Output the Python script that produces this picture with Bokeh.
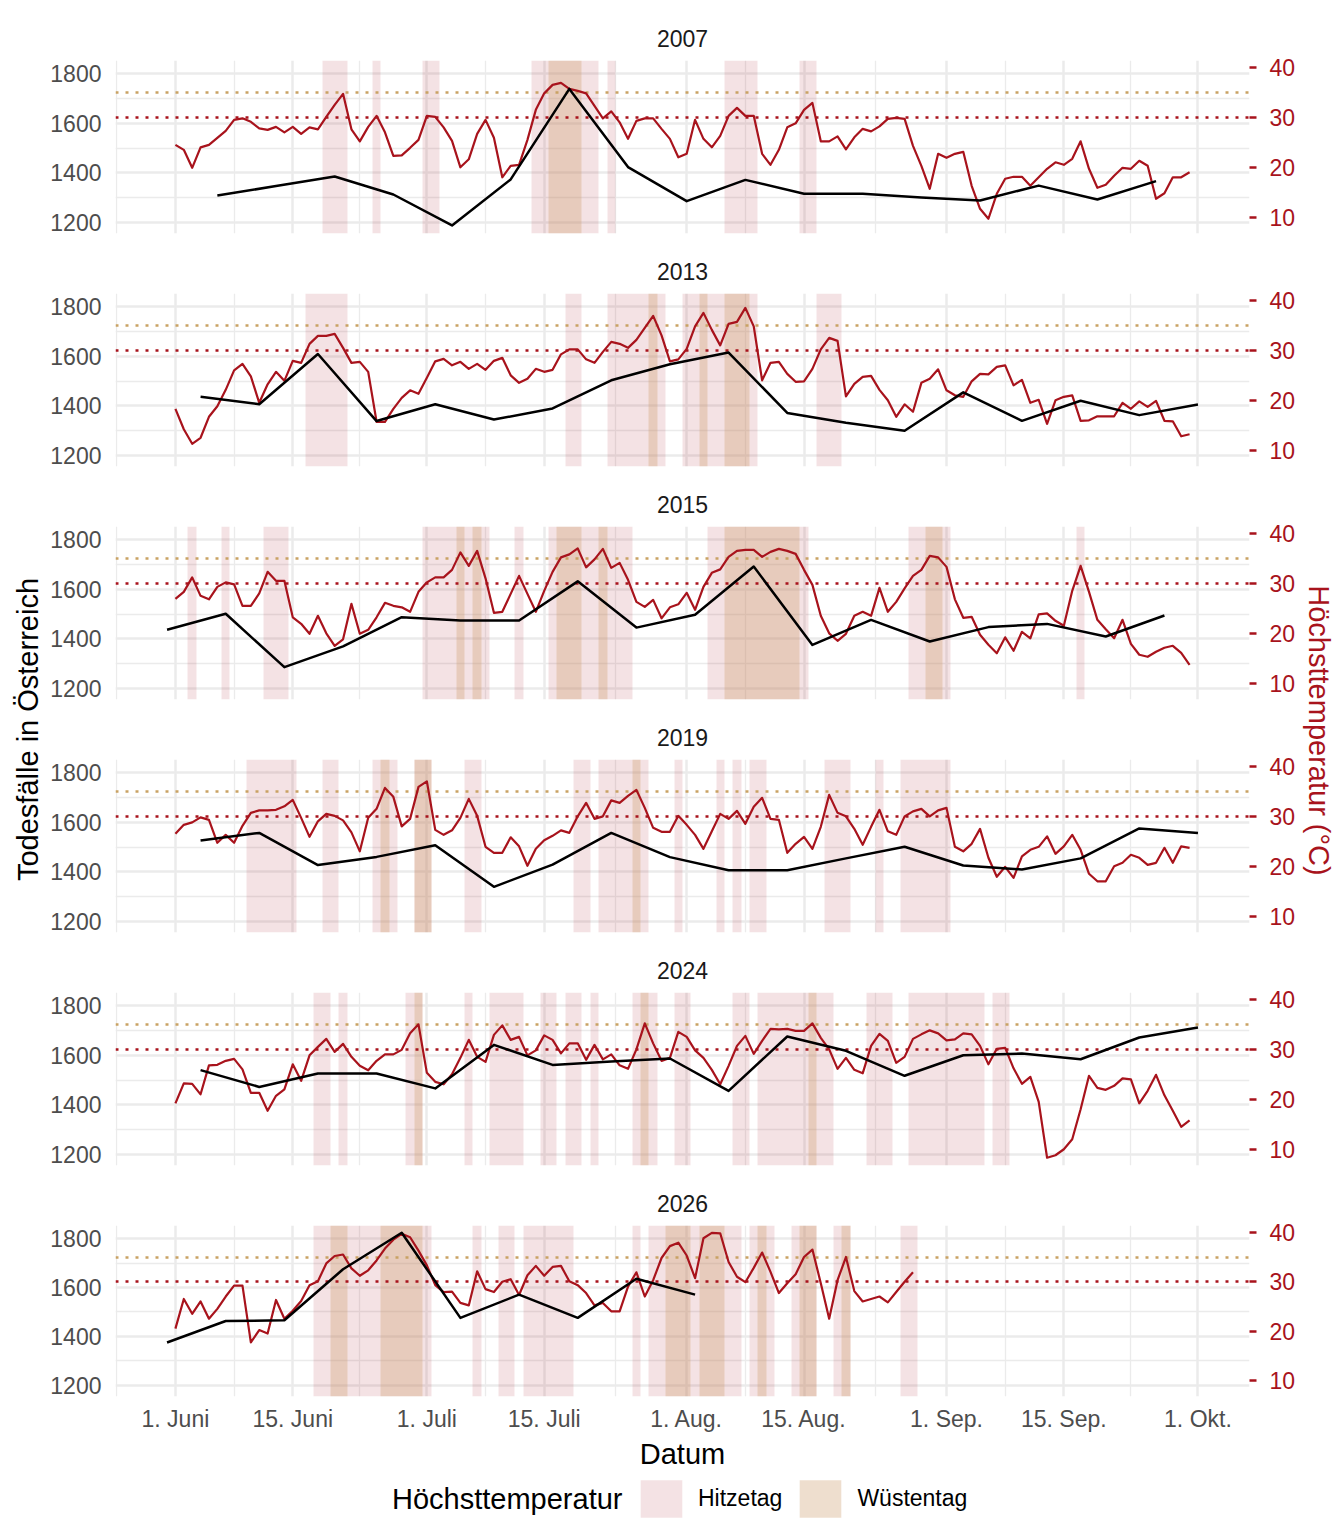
import math
from datetime import date

from bokeh.plotting import figure
from bokeh.layouts import column, row
from bokeh.models import Range1d, LinearAxis, FixedTicker, Label, Legend, LegendItem
from bokeh.embed import file_html
from bokeh.resources import INLINE

# ------------------------------------------------------------------ data
years = ["2007", "2013", "2015", "2019", "2024", "2026"]

# daily maximum temperature (°C), day 0 = 1 June
temp_2007 = [24.5, 23.5, 19.9, 24.0, 24.5, 25.9, 27.3, 29.5, 29.8, 29.1,
             27.8, 27.5, 28.1, 27.0, 28.1, 26.7, 28.0, 27.6, 30.1, 32.5,
             34.7, 27.6, 25.2, 28.1, 30.3, 27.0, 22.3, 22.4, 23.9, 25.5,
             30.3, 30.1, 28.0, 25.3, 20.0, 21.6, 26.7, 29.5, 25.9, 18.0,
             20.3, 20.5, 25.5, 31.5, 34.8, 36.5, 36.9, 35.7, 35.3, 34.8,
             32.3, 29.8, 31.2, 29.0, 25.7, 29.3, 29.8, 29.8, 27.7, 25.7,
             22.0, 22.7, 29.5, 25.7, 24.0, 26.3, 30.3, 31.9, 30.3, 30.3,
             22.7, 20.5, 23.5, 28.0, 28.8, 31.5, 32.9, 25.2, 25.2, 26.2,
             23.6, 26.0, 27.7, 27.2, 28.2, 29.7, 29.9, 29.7, 24.3, 20.3,
             15.7, 22.7, 21.9, 22.7, 23.1, 16.3, 11.7, 9.7, 14.7, 17.7,
             18.1, 18.1, 16.3, 18.0, 19.7, 21.0, 20.5, 21.7, 25.2, 19.7,
             15.9, 16.5, 18.3, 19.9, 19.7, 21.3, 20.3, 13.7, 14.8, 18.0, 18.0, 19.0]
temp_2013 = [18.3, 14.2, 11.3, 12.5, 16.7, 18.8, 22.1, 26.0, 27.3, 24.8,
             19.5, 23.2, 25.7, 23.9, 27.9, 27.5, 31.3, 32.9, 32.9, 33.3,
             30.5, 27.5, 27.7, 25.7, 15.7, 15.7, 18.3, 20.5, 22.0, 21.3,
             24.5, 27.8, 28.3, 27.0, 27.7, 26.3, 27.3, 26.1, 27.9, 28.5,
             25.0, 23.5, 24.3, 26.3, 25.7, 26.1, 29.2, 30.2, 30.2, 28.2,
             27.5, 29.7, 31.7, 31.3, 30.5, 32.1, 34.5, 36.9, 33.0, 27.8,
             28.2, 30.3, 34.8, 37.5, 34.1, 31.0, 35.3, 35.7, 38.5, 34.8,
             24.0, 27.5, 27.7, 25.3, 23.7, 23.8, 26.3, 30.2, 32.5, 31.9,
             20.8, 23.3, 24.7, 24.9, 22.1, 20.0, 16.7, 19.2, 17.7, 23.5,
             24.3, 26.2, 22.0, 21.0, 20.7, 23.8, 25.3, 25.2, 26.7, 27.0,
             23.0, 24.1, 19.5, 20.1, 15.3, 20.0, 20.7, 21.0, 15.9, 16.0,
             16.8, 16.8, 16.8, 19.5, 18.3, 19.8, 18.7, 19.9, 15.9, 15.8, 12.8, 13.2]
temp_2015 = [26.9, 28.3, 31.2, 27.5, 26.8, 29.3, 30.2, 29.8, 25.5, 25.5,
             28.0, 32.3, 30.5, 30.5, 23.2, 21.9, 19.9, 23.5, 20.0, 17.5,
             18.8, 25.9, 19.9, 20.7, 23.2, 26.1, 25.5, 25.2, 24.3, 28.3,
             30.2, 31.2, 31.2, 32.7, 36.2, 33.5, 36.5, 31.0, 24.1, 24.3,
             27.9, 31.5, 27.9, 24.3, 28.5, 32.3, 35.2, 35.8, 37.0, 33.2,
             34.8, 36.9, 33.1, 34.1, 30.7, 26.3, 25.3, 26.7, 23.0, 25.2,
             25.8, 28.1, 24.7, 29.3, 32.1, 32.8, 35.3, 36.5, 36.7, 36.7,
             35.3, 36.3, 36.9, 36.5, 35.9, 32.7, 29.7, 23.5, 20.0, 18.5,
             19.9, 23.5, 24.3, 23.5, 29.1, 24.3, 26.3, 29.0, 31.5, 32.7,
             35.5, 35.2, 33.3, 26.8, 23.1, 23.3, 19.7, 17.7, 16.0, 19.2,
             16.5, 20.3, 19.0, 23.8, 24.0, 22.5, 21.5, 28.5, 33.5, 28.3,
             22.7, 20.8, 19.0, 22.7, 17.9, 15.7, 15.3, 16.3, 17.1, 17.5, 16.1, 13.7]
temp_2019 = [26.5, 28.3, 28.8, 29.8, 29.3, 24.7, 26.3, 24.7, 28.1, 30.7,
             31.2, 31.2, 31.3, 32.0, 33.3, 29.7, 25.9, 29.0, 30.5, 30.1,
             29.2, 26.8, 23.0, 29.7, 31.5, 35.7, 33.9, 28.0, 29.5, 35.9,
             37.0, 27.3, 26.3, 27.2, 29.7, 33.5, 30.1, 23.9, 22.7, 22.7,
             25.8, 24.0, 20.1, 23.5, 25.2, 26.1, 27.2, 26.7, 30.0, 32.7,
             29.5, 30.0, 33.2, 32.7, 34.1, 35.3, 31.7, 27.7, 26.9, 26.9,
             30.1, 28.3, 26.3, 23.5, 27.0, 30.5, 29.5, 31.1, 28.5, 31.9,
             33.7, 29.5, 29.3, 22.7, 24.5, 25.9, 23.5, 27.9, 34.3, 30.7,
             30.0, 27.5, 24.3, 27.9, 31.3, 27.0, 26.3, 30.0, 31.0, 31.5,
             30.0, 31.2, 31.7, 23.9, 23.0, 24.5, 27.5, 21.7, 17.9, 19.9,
             17.7, 22.0, 23.3, 23.9, 26.0, 22.5, 24.0, 26.3, 23.3, 18.5,
             17.0, 17.0, 20.0, 20.7, 22.3, 21.7, 20.3, 20.7, 23.7, 20.7, 24.0, 23.7]
temp_2024 = [19.2, 23.2, 23.1, 21.0, 26.8, 26.9, 27.7, 28.1, 26.0, 21.3,
             21.3, 17.7, 20.7, 22.0, 27.0, 23.7, 28.8, 30.5, 32.1, 29.5,
             31.1, 28.5, 26.7, 25.8, 27.7, 29.0, 29.0, 29.9, 33.2, 35.0,
             25.3, 23.5, 23.0, 25.0, 28.3, 31.9, 28.5, 27.5, 32.9, 34.8,
             31.9, 32.5, 28.8, 29.8, 32.8, 31.9, 29.2, 31.2, 31.2, 27.9,
             30.9, 28.0, 29.0, 26.8, 26.1, 30.0, 35.2, 31.2, 27.7, 28.3,
             33.5, 32.5, 29.8, 28.3, 25.9, 23.0, 26.7, 30.7, 32.7, 29.1,
             31.7, 34.1, 34.0, 34.1, 33.7, 33.7, 35.2, 32.3, 30.0, 26.1,
             28.3, 25.9, 25.2, 30.7, 33.1, 31.7, 27.3, 28.5, 32.1, 33.0,
             33.8, 33.2, 31.8, 32.0, 33.2, 33.0, 30.7, 27.0, 30.1, 30.3,
             26.2, 23.1, 24.5, 19.5, 8.3, 8.8, 10.0, 12.0, 18.0, 24.7,
             22.3, 21.9, 22.7, 24.2, 24.0, 19.2, 21.7, 24.9, 20.8, 17.7, 14.5, 15.8]
temp_2026 = [20.5, 26.5, 23.5, 26.0, 22.5, 24.5, 27.0, 29.2, 29.2, 17.7,
             20.2, 19.5, 26.3, 22.5, 24.1, 26.1, 29.3, 30.1, 33.7, 35.2,
             35.5, 32.7, 31.2, 32.3, 34.3, 36.7, 38.5, 39.7, 39.0, 36.3,
             33.3, 29.3, 27.9, 28.0, 25.7, 25.2, 32.1, 28.5, 27.9, 30.0,
             30.5, 27.3, 31.3, 33.2, 31.2, 33.0, 33.2, 30.1, 29.3, 27.7,
             25.2, 25.7, 24.0, 24.0, 29.0, 31.9, 27.0, 30.3, 34.8, 37.2,
             37.9, 35.3, 30.7, 38.8, 39.9, 39.8, 34.0, 31.0, 29.9, 32.8,
             35.9, 32.0, 27.7, 29.7, 31.5, 35.0, 36.5, 29.7, 22.5, 30.3,
             35.0, 28.1, 26.0, 26.5, 27.0, 25.8, 27.9, 30.0, 31.9]

# weekly deaths in Austria (day of season, count)
death_days_2007 = [5, 12, 19, 26, 33, 40, 47, 54, 61, 68, 75, 82, 89, 96, 103, 110, 117]
deaths_2007 = [1308, 1346, 1385, 1312, 1187, 1373, 1739, 1423, 1285, 1371, 1315, 1315, 1300, 1288, 1348, 1292, 1366]
death_days_2013 = [3, 10, 17, 24, 31, 38, 45, 52, 59, 66, 73, 80, 87, 94, 101, 108, 115, 122]
deaths_2013 = [1436, 1406, 1609, 1338, 1406, 1344, 1389, 1503, 1568, 1615, 1371, 1331, 1299, 1454, 1339, 1420, 1362, 1405]
death_days_2015 = [-1, 6, 13, 20, 27, 34, 41, 48, 55, 62, 69, 76, 83, 90, 97, 104, 111, 118]
deaths_2015 = [1436, 1501, 1285, 1369, 1487, 1474, 1474, 1632, 1445, 1497, 1692, 1375, 1476, 1389, 1447, 1460, 1409, 1494]
death_days_2019 = [3, 10, 17, 24, 31, 38, 45, 52, 59, 66, 73, 80, 87, 94, 101, 108, 115, 122]
deaths_2019 = [1526, 1557, 1427, 1460, 1507, 1339, 1429, 1557, 1459, 1406, 1406, 1454, 1501, 1425, 1409, 1454, 1575, 1557]
death_days_2024 = [3, 10, 17, 24, 31, 38, 45, 52, 59, 66, 73, 80, 87, 94, 101, 108, 115, 122]
deaths_2024 = [1540, 1472, 1526, 1526, 1466, 1642, 1561, 1575, 1587, 1456, 1676, 1618, 1517, 1600, 1607, 1584, 1672, 1712]
death_days_2026 = [-1, 6, 13, 20, 27, 34, 41, 48, 55, 62]
deaths_2026 = [1375, 1463, 1466, 1675, 1824, 1476, 1571, 1476, 1636, 1571]

# runs of days (first, last): Hitzetag (>= 30 °C) and Wüstentag (>= 35 °C)
hitze_2007 = [(18, 20), (24, 24), (30, 31), (43, 50), (52, 52), (66, 69), (75, 76)]
wueste_2007 = [(45, 48)]
hitze_2013 = [(16, 20), (47, 48), (52, 58), (61, 69), (77, 79)]
wueste_2013 = [(57, 57), (63, 63), (66, 68)]
hitze_2015 = [(2, 2), (6, 6), (11, 13), (30, 37), (41, 41), (45, 54), (64, 75), (88, 92), (108, 108)]
wueste_2015 = [(34, 34), (36, 36), (46, 48), (51, 51), (66, 74), (90, 91)]
hitze_2019 = [(9, 14), (18, 19), (24, 26), (29, 30), (35, 36), (48, 49), (51, 56), (60, 60),
              (65, 65), (67, 67), (69, 70), (78, 80), (84, 84), (87, 92)]
wueste_2019 = [(25, 25), (29, 30), (55, 55)]
hitze_2024 = [(17, 18), (20, 20), (28, 29), (35, 35), (38, 41), (44, 45), (47, 48), (50, 50),
              (55, 57), (60, 61), (67, 68), (70, 78), (83, 85), (88, 96), (98, 99)]
wueste_2024 = [(29, 29), (56, 56), (76, 76)]
hitze_2026 = [(17, 30), (36, 36), (39, 40), (42, 47), (55, 55), (57, 67), (69, 71), (74, 76), (79, 80), (87, 88)]
wueste_2026 = [(19, 20), (25, 29), (59, 61), (63, 65), (70, 70), (75, 76), (80, 80)]

thresholds = [30, 35]
death_ticks = [1200, 1400, 1600, 1800]
death_minor = [1300, 1500, 1700]
temp_ticks = [10, 20, 30, 40]
tick_dates = [(6, 1), (6, 15), (7, 1), (7, 15), (8, 1), (8, 15), (9, 1), (9, 15), (10, 1)]
tick_labels = ["1. Juni", "15. Juni", "1. Juli", "15. Juli", "1. Aug.", "15. Aug.",
               "1. Sep.", "15. Sep.", "1. Okt."]
legend_labels = ["Hitzetag", "Wüstentag"]

panel_data = {
    "2007": (temp_2007, death_days_2007, deaths_2007, hitze_2007, wueste_2007),
    "2013": (temp_2013, death_days_2013, deaths_2013, hitze_2013, wueste_2013),
    "2015": (temp_2015, death_days_2015, deaths_2015, hitze_2015, wueste_2015),
    "2019": (temp_2019, death_days_2019, deaths_2019, hitze_2019, wueste_2019),
    "2024": (temp_2024, death_days_2024, deaths_2024, hitze_2024, wueste_2024),
    "2026": (temp_2026, death_days_2026, deaths_2026, hitze_2026, wueste_2026),
}

# ------------------------------------------------------------------ style
FONT = "Liberation Sans"
RED = "#A8131C"
GOLD = "#C9A264"
PINK, PINK_A = "#A8202E", 0.13
TAN, TAN_A = "#CDA073", 0.35
GRID = "#EBEBEB"

X_RANGE = (-7.15, 128.15)
DEATH_RANGE = (1154.3, 1853.8)
TEMP_RANGE = (6.75, 41.38)

PANEL_W, B_L, B_R = 1255, 70, 51
B_T, FRAME_H, B_B, LAST_B_B = 52, 173, 8, 74
STACK_H = 5 * (B_T + FRAME_H + B_B) + (B_T + FRAME_H + LAST_B_B)

season_start = date(2001, 6, 1)
major_days = [(date(2001, m, d) - season_start).days for m, d in tick_dates]
step = major_days[1] - major_days[0]
ext = [major_days[0] - step] + major_days + [major_days[-1] + step]
minor_days = [(a + b) / 2 for a, b in zip(ext[:-1], ext[1:])]


def style_grid(g, ticker):
    g.ticker = ticker
    g.grid_line_color = GRID
    g.grid_line_width = 2.5
    g.minor_grid_line_color = GRID
    g.minor_grid_line_width = 1.3


def make_panel(year, last):
    temps, wdays, wvals, hitze, wueste = panel_data[year]
    p = figure(width=PANEL_W, height=B_T + FRAME_H + (LAST_B_B if last else B_B),
               x_range=Range1d(*X_RANGE), y_range=Range1d(*DEATH_RANGE),
               output_backend="svg", toolbar_location=None,
               min_border_left=B_L, min_border_right=B_R, min_border_top=B_T,
               min_border_bottom=LAST_B_B if last else B_B,
               x_axis_location="below" if last else None,
               title=year)
    p.outline_line_color = None
    p.title.align = "center"
    p.title.text_font = FONT
    p.title.text_font_size = "23px"
    p.title.text_font_style = "normal"
    p.title.text_color = "#1A1A1A"
    p.title.standoff = 28

    style_grid(p.xgrid[0], FixedTicker(ticks=major_days, minor_ticks=minor_days))
    style_grid(p.ygrid[0], FixedTicker(ticks=death_ticks, minor_ticks=death_minor))

    ly = p.left[0]
    ly.ticker = FixedTicker(ticks=death_ticks, minor_ticks=death_minor)
    ly.axis_line_color = None
    ly.major_tick_out = 0
    ly.major_tick_in = 0
    ly.minor_tick_out = 0
    ly.minor_tick_in = 0
    ly.major_label_standoff = 14
    ly.major_label_text_font = FONT
    ly.major_label_text_font_size = "23px"
    ly.major_label_text_color = "#4D4D4D"

    p.extra_y_ranges = {"temp": Range1d(*TEMP_RANGE)}
    ry = LinearAxis(y_range_name="temp", ticker=FixedTicker(ticks=temp_ticks))
    ry.axis_line_color = None
    ry.major_tick_out = 7
    ry.major_tick_in = 0
    ry.minor_tick_out = 0
    ry.minor_tick_in = 0
    ry.major_tick_line_color = RED
    ry.major_tick_line_width = 2.5
    ry.major_label_standoff = 13
    ry.major_label_text_font = FONT
    ry.major_label_text_font_size = "23px"
    ry.major_label_text_color = RED
    p.add_layout(ry, "right")

    if last:
        bx = p.below[0]
        bx.ticker = FixedTicker(ticks=major_days, minor_ticks=minor_days)
        bx.major_label_overrides = {d: lab for d, lab in zip(major_days, tick_labels)}
        bx.axis_line_color = None
        bx.major_tick_out = 0
        bx.major_tick_in = 0
        bx.minor_tick_out = 0
        bx.minor_tick_in = 0
        bx.major_label_standoff = 9
        bx.major_label_text_font = FONT
        bx.major_label_text_font_size = "23px"
        bx.major_label_text_color = "#4D4D4D"
        bx.axis_label = "Datum"
        bx.axis_label_standoff = 3
        bx.axis_label_text_font = FONT
        bx.axis_label_text_font_size = "29px"
        bx.axis_label_text_font_style = "normal"
        bx.axis_label_text_color = "black"

    # heat-day bands
    p.vstrip(x0=[s - 0.5 for s, e in hitze], x1=[e + 0.5 for s, e in hitze],
             fill_color=PINK, fill_alpha=PINK_A, line_color=None)
    p.vstrip(x0=[s - 0.5 for s, e in wueste], x1=[e + 0.5 for s, e in wueste],
             fill_color=TAN, fill_alpha=TAN_A, line_color=None)
    # thresholds
    p.hspan(y=[thresholds[1]], y_range_name="temp", line_color=GOLD, line_width=2.5, line_dash="3 7")
    p.hspan(y=[thresholds[0]], y_range_name="temp", line_color=RED, line_width=2.5, line_dash="3 7")
    # temperature and deaths
    p.line(x=list(range(len(temps))), y=temps, y_range_name="temp",
           line_color=RED, line_width=2.2, line_join="round")
    p.line(x=wdays, y=wvals, line_color="black", line_width=2.5, line_join="round")
    return p


panels = [make_panel(y, i == len(years) - 1) for i, y in enumerate(years)]


def side_fig(width):
    f = figure(width=width, height=STACK_H, x_range=Range1d(0, width), y_range=Range1d(0, STACK_H),
               output_backend="svg", toolbar_location=None, min_border=0,
               x_axis_location=None, y_axis_location=None)
    f.outline_line_color = None
    f.grid.visible = False
    return f


left = side_fig(37)
left.add_layout(Label(x=19, y=STACK_H - 721, text="Todesfälle in Österreich", angle=math.pi / 2,
                      text_align="center", text_baseline="middle", text_font=FONT,
                      text_font_size="29px", text_color="black"))
right = side_fig(36)
right.add_layout(Label(x=18, y=STACK_H - 722, text="Höchsttemperatur (°C)", angle=-math.pi / 2,
                       text_align="center", text_baseline="middle", text_font=FONT,
                       text_font_size="29px", text_color=RED))

LEG_W, LEG_H = 1328, 50
lf = figure(width=LEG_W, height=LEG_H, x_range=Range1d(0, LEG_W), y_range=Range1d(0, LEG_H),
            output_backend="svg", toolbar_location=None, min_border=0,
            x_axis_location=None, y_axis_location=None)
lf.outline_line_color = None
lf.grid.visible = False
nan = float("nan")
r1 = lf.quad(left=[nan], right=[nan], top=[nan], bottom=[nan],
             fill_color=PINK, fill_alpha=PINK_A, line_color=None)
r2 = lf.quad(left=[nan], right=[nan], top=[nan], bottom=[nan],
             fill_color=TAN, fill_alpha=TAN_A, line_color=None)
legend = Legend(items=[LegendItem(label=legend_labels[0], renderers=[r1]),
                       LegendItem(label=legend_labels[1], renderers=[r2])],
                orientation="horizontal", location=(627, 0),
                glyph_width=52, glyph_height=47, label_standoff=11, spacing=12,
                padding=0, margin=0, border_line_color=None, background_fill_alpha=0,
                label_text_font=FONT, label_text_font_size="23px", label_text_color="black")
lf.add_layout(legend)
lf.add_layout(Label(x=614, y=24, text="Höchsttemperatur", text_align="right", text_baseline="middle",
                    text_font=FONT, text_font_size="29px", text_color="black"))

layout = column(row(left, column(*panels), right), lf, margin=(8, 0, 0, 8))

open("out.html", "w").write(file_html(layout, INLINE))
